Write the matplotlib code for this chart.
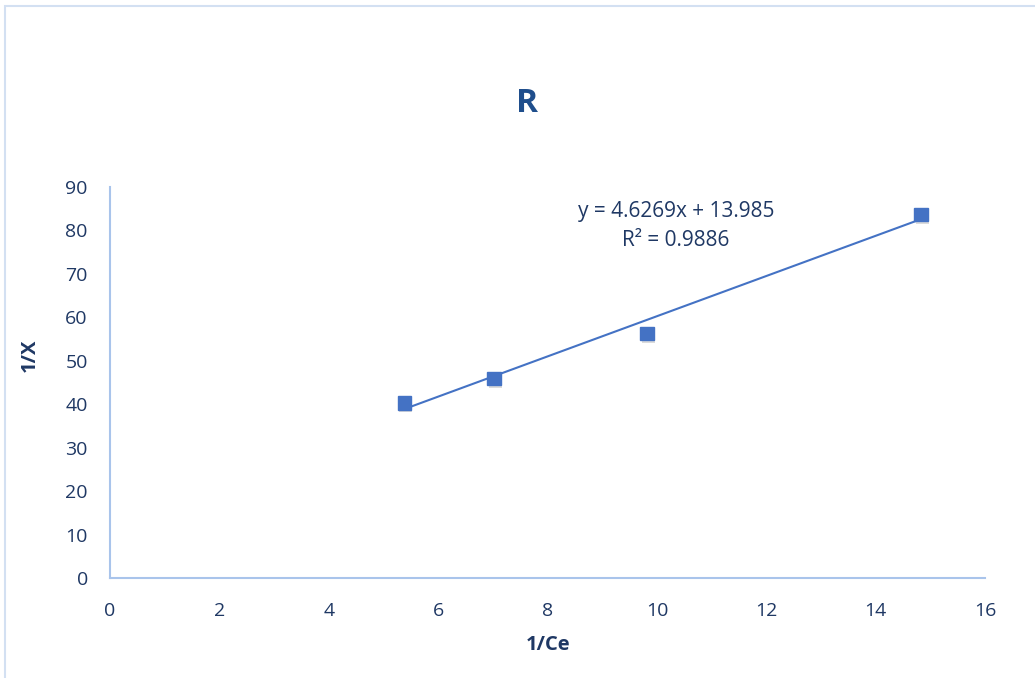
import matplotlib
matplotlib.use('Agg')

import matplotlib.pyplot as plt
import matplotlib.patheffects as pe
from matplotlib.patches import Rectangle
import numpy as np

# Messwerte (1/Ce gegen 1/X)
inv_ce = [5.38, 7.02, 9.82, 14.83]
inv_x = [40.3, 46.0, 56.2, 83.6]

# Lineare Regression, wie im Diagramm angegeben
slope = 4.6269
intercept = 13.985
r_squared = 0.9886

x_ticks = [0, 2, 4, 6, 8, 10, 12, 14, 16]
y_ticks = [0, 10, 20, 30, 40, 50, 60, 70, 80, 90]

text_col = '#1F3864'
blue = '#4472C4'
axis_col = '#A9C4EB'

plt.rcParams['font.family'] = ['Open Sans', 'DejaVu Sans']

fig = plt.figure(figsize=(10.35, 6.78), dpi=100)
ax = fig.add_axes([110 / 1035, 100 / 678, 875 / 1035, 391 / 678])

# Rahmen des Diagrammbereichs
fig.patches.append(Rectangle((5 / 1035, -0.05), 1.1, (672 / 678) + 0.05,
                             transform=fig.transFigure, fill=False,
                             edgecolor='#D3E0F2', linewidth=1.5))

# Trendlinie
xs = np.array([min(inv_ce), max(inv_ce)])
ax.plot(xs, slope * xs + intercept, color=blue, linewidth=1.5, zorder=2)

# Messpunkte mit Schatten
ax.plot(inv_ce, inv_x, linestyle='none', marker='s', markersize=9.5,
        markerfacecolor=blue, markeredgecolor=blue, zorder=3,
        path_effects=[pe.SimplePatchShadow(offset=(1.0, -2.0), shadow_rgbFace='#888888', alpha=0.3),
                      pe.Normal()])

# Gleichung der Trendlinie
ax.text(10.35, 84.3, f'y = {slope}x + {intercept}', ha='center', va='center',
        fontsize=15, color=text_col)
ax.text(10.35, 77.6, f'R² = {r_squared}', ha='center', va='center',
        fontsize=15, color=text_col)

ax.set_xlim(0, 16)
ax.set_ylim(0, 90)
ax.set_xticks(x_ticks)
ax.set_yticks(y_ticks)
ax.tick_params(length=0, labelsize=14, labelcolor=text_col)
ax.tick_params(axis='x', pad=17)
ax.tick_params(axis='y', pad=16)

for side in ['top', 'right']:
    ax.spines[side].set_visible(False)
for side in ['left', 'bottom']:
    ax.spines[side].set_color(axis_col)
    ax.spines[side].set_linewidth(1.5)

ax.set_xlabel('1/Ce', fontsize=14.5, fontweight='bold', color=text_col, va='center')
ax.set_ylabel('1/X', fontsize=14.5, fontweight='bold', color=text_col, va='center')
ax.xaxis.set_label_coords((548 - 110) / 875, (578 - 645) / 391)
ax.yaxis.set_label_coords((30 - 110) / 875, (578 - 355) / 391)

fig.text(527 / 1035, 1 - 104 / 678, 'R', ha='center', va='center',
         fontsize=24, fontweight='bold', color='#1F4E8C')

fig.savefig('out.png', dpi=100)
